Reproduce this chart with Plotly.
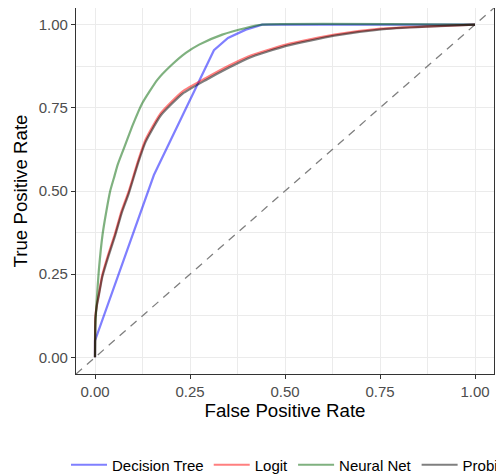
import plotly.graph_objects as go

tick_vals = [0, 0.25, 0.5, 0.75, 1.0]
tick_text = ["0.00", "0.25", "0.50", "0.75", "1.00"]
axis_range = [-0.05, 1.05]

tree_fpr = [0, 0, 0.155, 0.313, 0.35, 0.397, 0.44, 1.0]
tree_tpr = [0, 0.05, 0.548, 0.923, 0.96, 0.985, 1.0, 1.0]

logit_fpr = [0, 0.001, 0.005, 0.01, 0.019, 0.035, 0.053, 0.07, 0.089, 0.114, 0.133,
             0.173, 0.23, 0.291, 0.353, 0.405, 0.503, 0.63, 0.753, 0.875, 1.0]
logit_tpr = [0, 0.12, 0.16, 0.19, 0.247, 0.31, 0.373, 0.44, 0.5, 0.593, 0.654,
             0.734, 0.799, 0.839, 0.877, 0.905, 0.94, 0.97, 0.988, 0.995, 1.0]

nnet_fpr = [0, 0.001, 0.002, 0.005, 0.01, 0.02, 0.03, 0.04, 0.05, 0.06, 0.08, 0.1,
            0.125, 0.164, 0.2, 0.239, 0.274, 0.335, 0.397, 0.44, 1.0]
nnet_tpr = [0, 0.09, 0.12, 0.18, 0.26, 0.37, 0.44, 0.5, 0.54, 0.58, 0.64, 0.70,
            0.765, 0.834, 0.877, 0.915, 0.94, 0.97, 0.99, 1.0, 1.0]

probit_fpr = [0, 0.001, 0.005, 0.01, 0.019, 0.035, 0.053, 0.07, 0.089, 0.114, 0.133,
              0.173, 0.23, 0.291, 0.353, 0.405, 0.503, 0.63, 0.753, 0.875, 1.0]
probit_tpr = [0, 0.118, 0.156, 0.185, 0.241, 0.303, 0.366, 0.433, 0.493, 0.586, 0.647,
              0.727, 0.792, 0.833, 0.871, 0.9, 0.936, 0.967, 0.986, 0.994, 1.0]

series = [
    ("Decision Tree", tree_fpr, tree_tpr, "rgba(0,0,255,0.5)", "linear"),
    ("Logit", logit_fpr, logit_tpr, "rgba(255,0,0,0.5)", "spline"),
    ("Neural Net", nnet_fpr, nnet_tpr, "rgba(0,100,0,0.5)", "spline"),
    ("Probit", probit_fpr, probit_tpr, "rgba(0,0,0,0.5)", "spline"),
]

fig = go.Figure()
fig.add_trace(go.Scatter(x=axis_range, y=axis_range, mode="lines",
                         line=dict(color="#7f7f7f", width=1.3, dash="8px,6.5px"),
                         showlegend=False, hoverinfo="skip"))
for name, xs, ys, col, shp in series:
    line = dict(color=col, width=2.2, shape=shp)
    if shp == "spline":
        line["smoothing"] = 0.5
    fig.add_trace(go.Scatter(x=xs, y=ys, mode="lines", name=name, line=line))

font = "Liberation Sans, Arial, sans-serif"
axis_common = dict(
    range=axis_range, tickmode="array", tickvals=tick_vals, ticktext=tick_text,
    automargin=False,
    showgrid=True, gridcolor="#EBEBEB", gridwidth=1.1, zeroline=False,
    showline=True, mirror=True, linecolor="#333333", linewidth=1.3,
    ticks="outside", ticklen=4, tickcolor="#333333", tickwidth=1.1,
    tickfont=dict(family=font, size=15, color="#4D4D4D"),
    minor=dict(tickmode="array", tickvals=[0.125, 0.375, 0.625, 0.875],
               showgrid=True, gridcolor="#EBEBEB", gridwidth=0.6, ticks=""),
)
fig.update_xaxes(**axis_common,
                 title=dict(text="False Positive Rate", standoff=4,
                            font=dict(family=font, size=18.7, color="#000000")))
fig.update_yaxes(**axis_common,
                 title=dict(text="True Positive Rate", standoff=6,
                            font=dict(family=font, size=18.7, color="#000000")))

fig.update_layout(
    width=520, height=474,
    margin=dict(l=68, r=34, t=0, b=108),
    paper_bgcolor="white", plot_bgcolor="white",
    font=dict(family=font),
    legend=dict(orientation="h", x=1.0335, xanchor="right", y=-0.2486, yanchor="middle",
                font=dict(family=font, size=15, color="#000000"),
                itemwidth=36, tracegroupgap=0),
)
fig.write_html("out.html")
